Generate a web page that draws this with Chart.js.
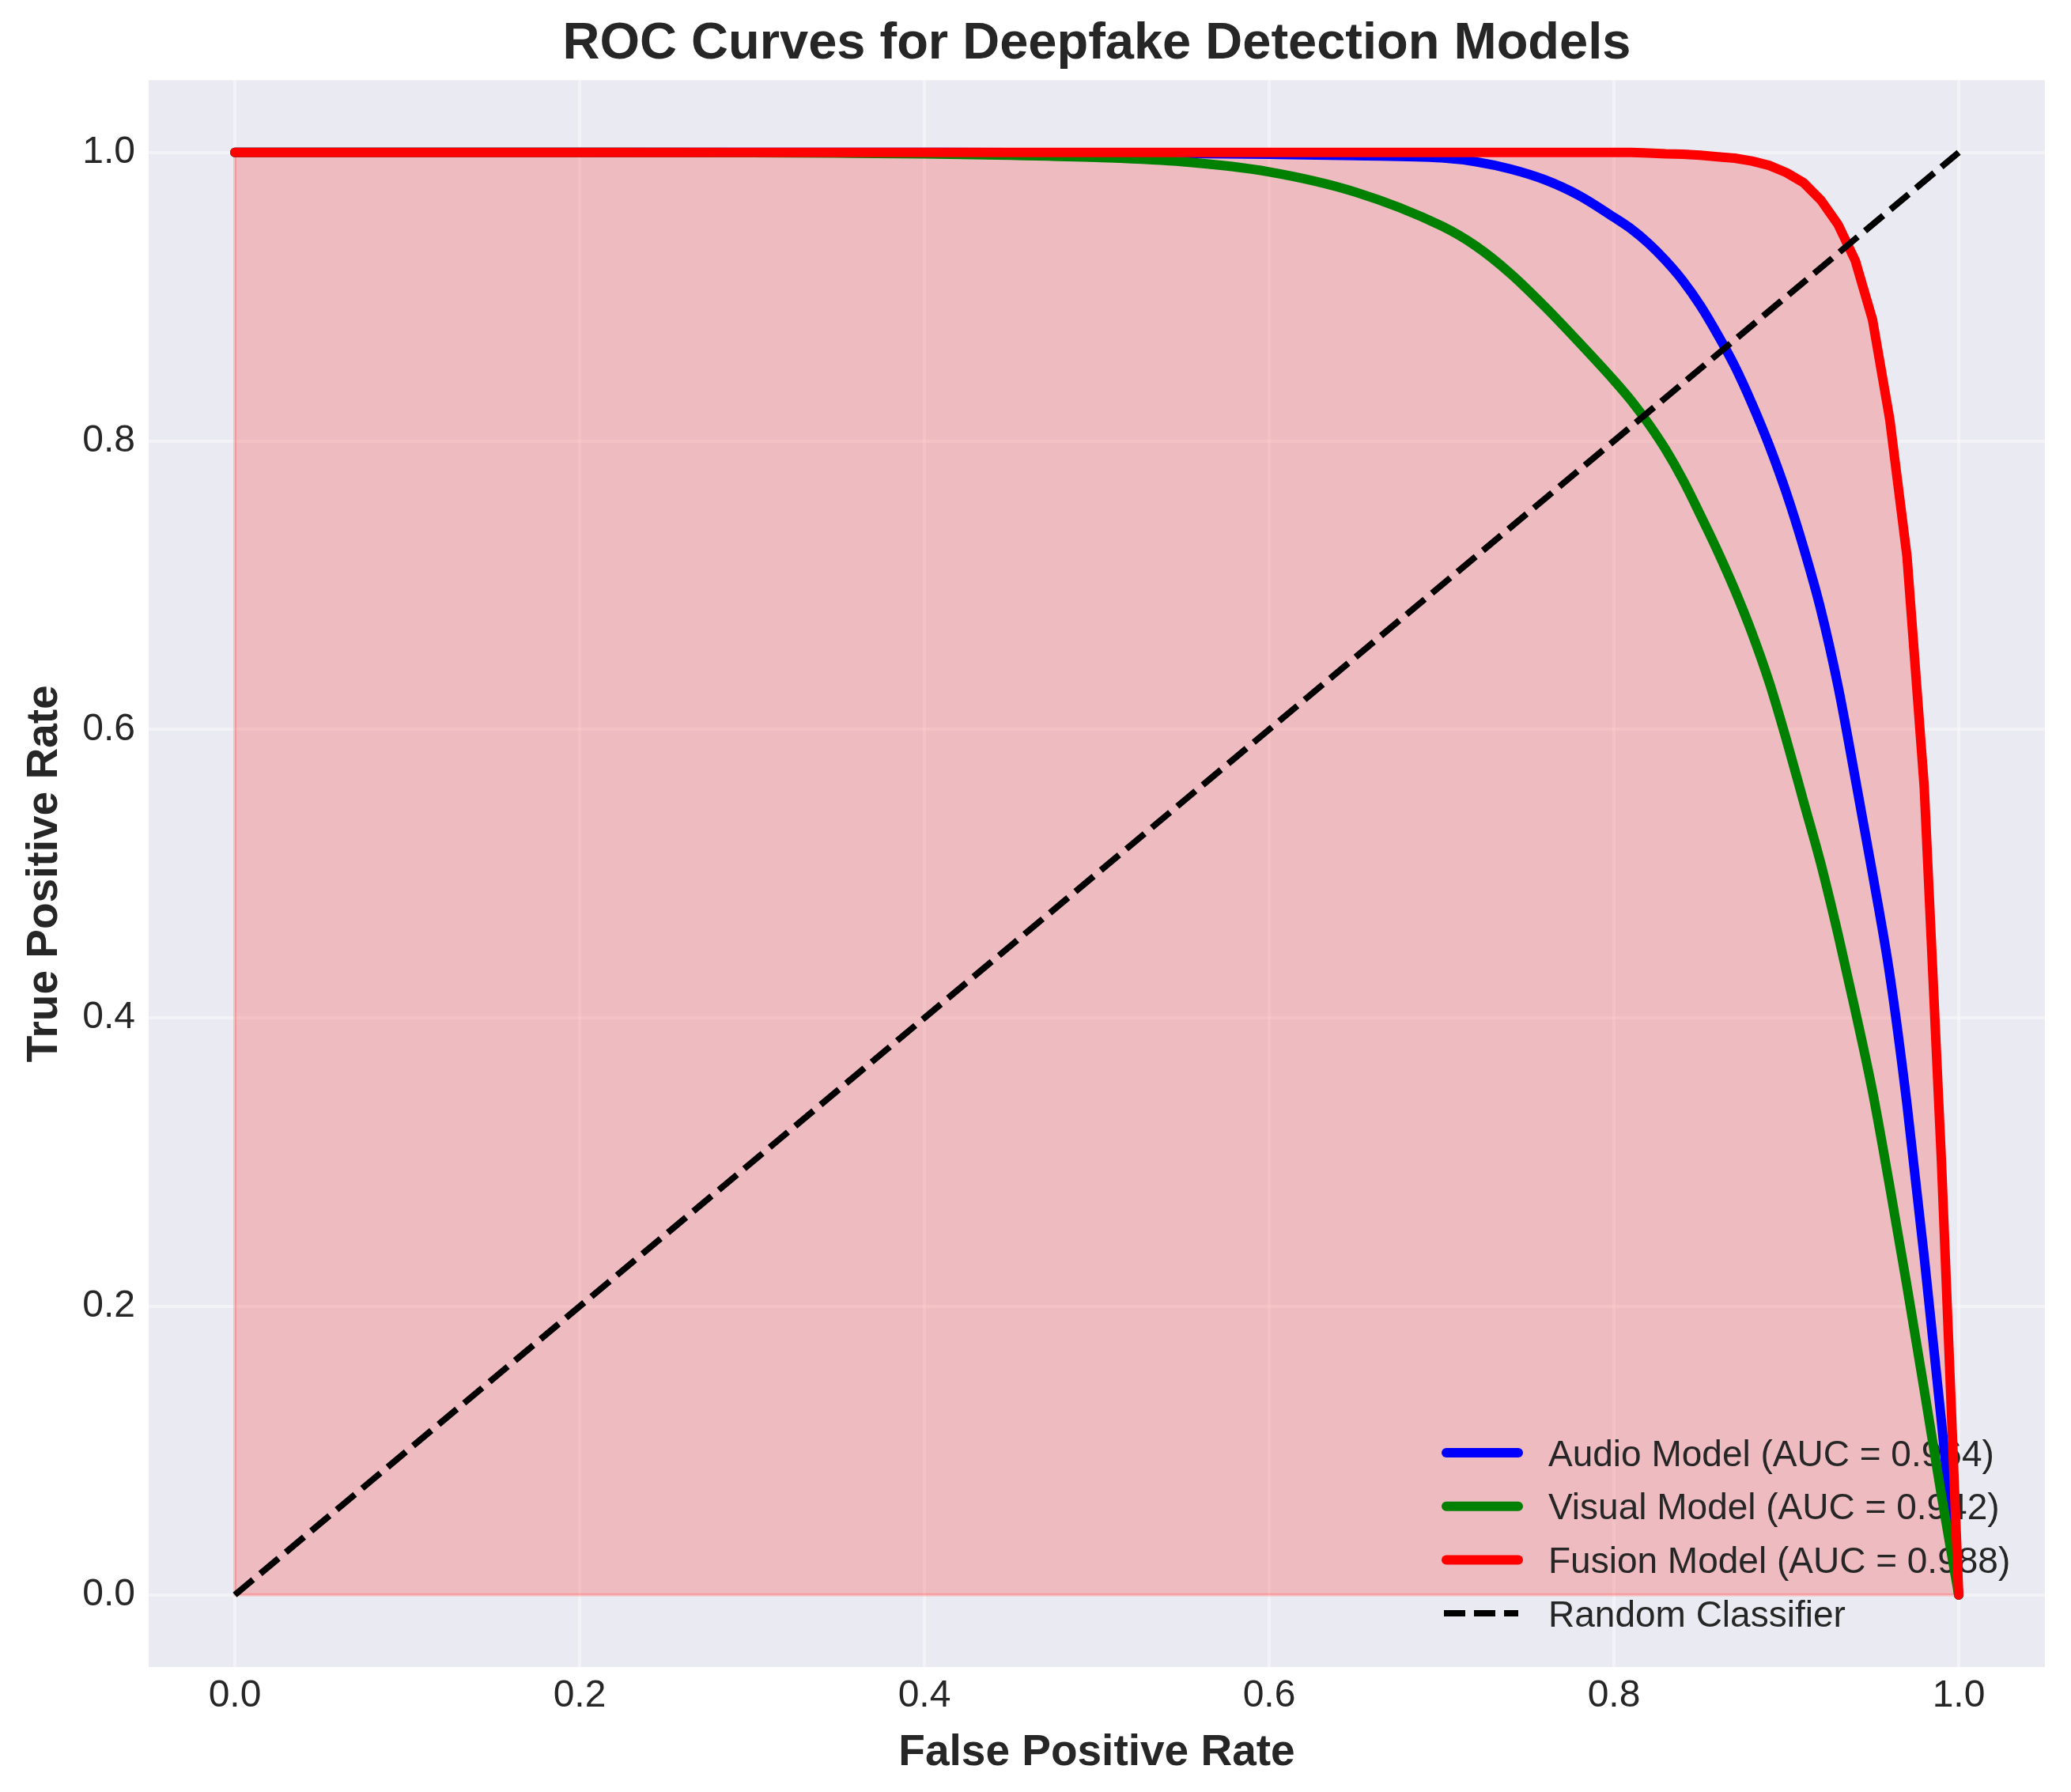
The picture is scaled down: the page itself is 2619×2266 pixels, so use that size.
<!DOCTYPE html>
<html>
<head>
<meta charset="utf-8">
<title>ROC Curves for Deepfake Detection Models</title>
<script src="https://cdn.jsdelivr.net/npm/chart.js@4.4.1/dist/chart.umd.min.js"></script>
<style>
  html, body { margin: 0; padding: 0; background: #ffffff; }
  canvas { display: block; }
</style>
</head>
<body>
<canvas id="roc" width="2619" height="2266"></canvas>
<script>
// values
const fpr = [0, 0.1, 0.2, 0.3, 0.35, 0.4, 0.45, 0.5, 0.55, 0.6, 0.65, 0.7, 0.72, 0.74, 0.76, 0.78,
  0.8, 0.81, 0.82, 0.83, 0.84, 0.85, 0.86, 0.87, 0.88, 0.89, 0.9, 0.91, 0.92, 0.93, 0.94, 0.95,
  0.96, 0.97, 0.98, 0.99, 1.0];
const tprAudio = [1, 1, 1, 1, 1, 1, 0.9999, 0.9997, 0.9993, 0.9987, 0.9978, 0.9962, 0.9935, 0.9885, 0.981, 0.970,
  0.955, 0.947, 0.937, 0.925, 0.911, 0.894, 0.874, 0.852, 0.826, 0.797, 0.764, 0.726, 0.683, 0.630, 0.566, 0.500,
  0.430, 0.340, 0.234, 0.120, 0];
const tprVisual = [1, 1, 1, 0.9998, 0.9995, 0.999, 0.998, 0.9965, 0.9935, 0.9865, 0.9725, 0.949, 0.935, 0.916, 0.893, 0.868,
  0.842, 0.828, 0.812, 0.794, 0.773, 0.749, 0.724, 0.697, 0.667, 0.633, 0.593, 0.550, 0.507, 0.458, 0.405, 0.349,
  0.283, 0.214, 0.142, 0.069, 0];
const tprFusion = [1, 1, 1, 1, 1, 1, 1, 1, 1, 1, 1, 1, 1, 1, 1, 1,
  1, 1, 0.9995, 0.999, 0.9988, 0.998, 0.997, 0.996, 0.994, 0.991, 0.986, 0.979, 0.967, 0.950, 0.925, 0.884,
  0.815, 0.720, 0.560, 0.300, 0];
const randomX = [0, 1];
const randomY = [0, 1];

const modelNames = ["Audio Model", "Visual Model", "Fusion Model"];
const aucValues = [0.964, 0.942, 0.988];
const tickValues = [0, 0.2, 0.4, 0.6, 0.8, 1.0];
const tickLabels = ["0.0", "0.2", "0.4", "0.6", "0.8", "1.0"];

const FONT = "'Liberation Sans', Arial, sans-serif";
const TEXT = "#262626";

const toPoints = (xs, ys) => xs.map((x, i) => ({ x: x, y: ys[i] }));
const fusionPts = toPoints(fpr, tprFusion);

// background, legend, title and axis titles
const decor = {
  id: "decor",
  beforeDraw(chart) {
    const { ctx, chartArea: a } = chart;
    ctx.save();
    ctx.fillStyle = "#ffffff";
    ctx.fillRect(0, 0, chart.width, chart.height);
    ctx.fillStyle = "#EAEAF2";
    ctx.fillRect(a.left, a.top, a.right - a.left, a.bottom - a.top);
    ctx.restore();
  },
  beforeDatasetsDraw(chart) {
    const { ctx, chartArea: a } = chart;
    const items = chart.data.datasets.filter(d => d.label);
    ctx.save();
    ctx.font = "46px " + FONT;
    ctx.textAlign = "left";
    ctx.textBaseline = "alphabetic";
    items.forEach((d, i) => {
      const y = a.bottom - 271 + i * 67.7;
      ctx.beginPath();
      ctx.strokeStyle = d.borderColor;
      ctx.lineWidth = d.borderWidth;
      if (d.borderDash && d.borderDash.length) {
        ctx.lineCap = "butt";
        ctx.setLineDash([27, 11]);
        ctx.moveTo(a.right - 760, y);
        ctx.lineTo(a.right - 666, y);
      } else {
        ctx.lineCap = "round";
        ctx.setLineDash([]);
        ctx.moveTo(a.right - 757, y);
        ctx.lineTo(a.right - 666, y);
      }
      ctx.stroke();
      ctx.fillStyle = TEXT;
      ctx.fillText(d.label, a.right - 628, y + 16.5);
    });
    ctx.restore();
  },
  afterDraw(chart) {
    const { ctx, chartArea: a } = chart;
    const cx = (a.left + a.right) / 2;
    const cy = (a.top + a.bottom) / 2;
    ctx.save();
    ctx.fillStyle = TEXT;
    ctx.textAlign = "center";
    ctx.textBaseline = "alphabetic";
    ctx.font = "bold 65px " + FONT;
    ctx.fillText("ROC Curves for Deepfake Detection Models", cx, 74);
    ctx.font = "bold 55px " + FONT;
    ctx.fillText("False Positive Rate", cx, 2232);
    ctx.translate(72, cy);
    ctx.rotate(-Math.PI / 2);
    ctx.fillText("True Positive Rate", 0, 0);
    ctx.restore();
  }
};

const axis = (fitFn) => ({
  type: "linear",
  min: -0.05,
  max: 1.05,
  afterBuildTicks: s => { s.ticks = tickValues.map(v => ({ value: v })); },
  afterFit: fitFn,
  grid: { color: "rgba(255,255,255,0.4)", lineWidth: 4, drawTicks: false },
  border: { display: false },
  ticks: {
    color: TEXT,
    font: { size: 48, family: FONT },
    callback: (v, i) => tickLabels[i]
  }
});

const xAxis = axis(s => { s.height = 158; });
xAxis.ticks.padding = 8;
const yAxis = axis(s => { s.width = 188; });
yAxis.ticks.padding = 17;

new Chart(document.getElementById("roc"), {
  type: "line",
  data: {
    datasets: [
      {
        label: modelNames[0] + " (AUC = " + aucValues[0].toFixed(3) + ")",
        data: toPoints(fpr, tprAudio),
        borderColor: "#0000FF",
        borderWidth: 12,
        cubicInterpolationMode: "monotone",
        order: 4
      },
      {
        label: modelNames[1] + " (AUC = " + aucValues[1].toFixed(3) + ")",
        data: toPoints(fpr, tprVisual),
        borderColor: "#008000",
        borderWidth: 12,
        cubicInterpolationMode: "monotone",
        order: 3
      },
      {
        label: modelNames[2] + " (AUC = " + aucValues[2].toFixed(3) + ")",
        data: fusionPts,
        borderColor: "#FF0000",
        borderWidth: 12,
        fill: "origin",
        backgroundColor: "rgba(255,0,0,0.2)",
        order: 2
      },
      {
        label: "Random Classifier",
        data: toPoints(randomX, randomY),
        borderColor: "#000000",
        borderWidth: 8,
        borderDash: [30, 12],
        borderCapStyle: "butt",
        order: 1
      },
      {
        // outline of the shaded area under the fusion curve
        label: "",
        data: [{ x: 0, y: 0 }].concat(fusionPts, [{ x: 0, y: 0 }]),
        borderColor: "rgba(255,0,0,0.2)",
        borderWidth: 4,
        order: 5
      }
    ]
  },
  options: {
    responsive: false,
    devicePixelRatio: 1,
    animation: false,
    layout: { padding: { top: 101.5, right: 33, bottom: 0, left: 0 } },
    elements: {
      point: { radius: 0 },
      line: { borderCapStyle: "round", borderJoinStyle: "round", fill: false }
    },
    scales: { x: xAxis, y: yAxis },
    plugins: {
      legend: { display: false },
      tooltip: { enabled: false },
      filler: { drawTime: "beforeDatasetsDraw" }
    }
  },
  plugins: [decor]
});
</script>
</body>
</html>
